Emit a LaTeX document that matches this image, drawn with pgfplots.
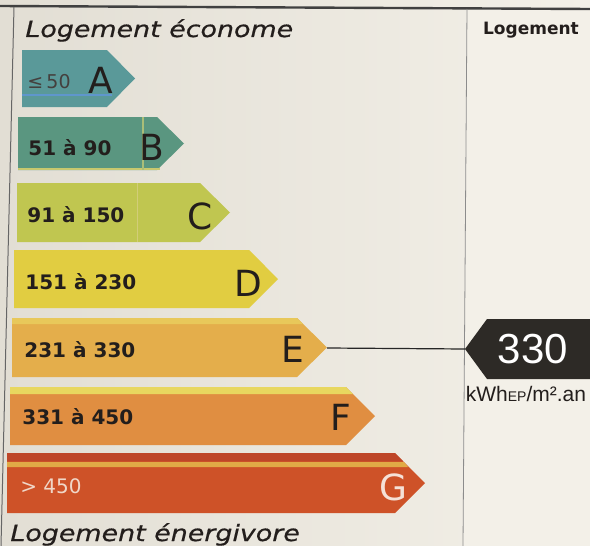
\documentclass[border=0pt]{standalone}
\usepackage{pgfplots}
\pgfplotsset{compat=1.18}
\usepackage{fontspec}
\setmainfont{DejaVu Sans}
\newfontfamily\verd[FakeStretch=1.2,FakeBold=0.6]{DejaVu Sans}
\newfontfamily\arial{Liberation Sans}
\definecolor{bgL}{RGB}{226,222,212}
\definecolor{bgR}{RGB}{243,240,232}
\definecolor{cA}{RGB}{90,153,153}
\definecolor{cB}{RGB}{90,150,128}
\definecolor{cC}{RGB}{192,198,80}
\definecolor{cD}{RGB}{225,205,65}
\definecolor{cE}{RGB}{228,174,75}
\definecolor{cF}{RGB}{224,142,65}
\definecolor{cG}{RGB}{206,82,40}
\definecolor{txt}{RGB}{35,30,28}
\definecolor{mark}{RGB}{45,42,38}
\begin{document}
\begin{tikzpicture}
\begin{axis}[hide axis, scale only axis, width=295pt, height=273pt,
  xmin=0, xmax=590, ymin=0, ymax=546, y dir=reverse, clip=true]
% background
\addplot[draw=none, left color=bgL, right color=bgR] coordinates {(0,0) (590,0) (590,546) (0,546)};
\addplot[draw=none, fill=bgR] coordinates {(466,8) (590,8) (590,546) (463,546)};
% frame
\addplot[draw=black!75, line width=1.2pt] coordinates {(0,6) (590,9)};
\addplot[draw=black!60, line width=0.5pt] coordinates {(14,7) (1,546)};
\addplot[draw=black!45, line width=0.4pt] coordinates {(467,9) (463,546)};
% bars
\addplot[draw=none, fill=cA] coordinates {(22,50) (107,50) (135,78.5) (107,107) (22,107)};
\addplot[draw=none, fill=cB] coordinates {(18,117) (157,117) (184,143.5) (157,170) (18,170)};
\addplot[draw=none, fill=cC] coordinates {(17,183) (200,183) (230,212.5) (200,242) (17,242)};
\addplot[draw=none, fill=cD] coordinates {(14,250) (249,250) (278,279) (249,308) (14,308)};
\addplot[draw=none, fill=cE] coordinates {(12,318) (297,318) (327,347.5) (297,377) (12,377)};
\addplot[draw=none, fill=cF] coordinates {(10,387) (346,387) (375,416) (346,445) (10,445)};
\addplot[draw=none, fill=cG] coordinates {(7,453) (395,453) (425,483) (395,513) (7,513)};
% print artefacts
\addplot[draw={rgb,255:red,95;green,150;blue,205}, line width=1.2pt] coordinates {(22,95) (112,95)};
\addplot[draw={rgb,255:red,200;green,200;blue,110}, line width=1pt] coordinates {(18,169) (160,169)};
\addplot[draw={rgb,255:red,170;green,190;blue,120}, line width=0.6pt] coordinates {(143,117) (143,170)};
\addplot[draw={rgb,255:red,210;green,205;blue,120}, line width=0.5pt] coordinates {(137,183) (137,242)};
\addplot[draw=none, fill={rgb,255:red,232;green,200;blue,90}] coordinates {(12,318) (297,318) (303,324) (12,324)};
\addplot[draw=none, fill={rgb,255:red,232;green,215;blue,95}] coordinates {(10,387) (346,387) (353,394) (10,394)};
\addplot[draw=none, fill={rgb,255:red,190;green,70;blue,40}] coordinates {(7,453) (395,453) (403,461) (7,461)};
\addplot[draw=none, fill={rgb,255:red,225;green,170;blue,70}] coordinates {(7,462) (404,462) (408,467) (7,467)};
% pointer line and marker
\addplot[draw=black!85, line width=0.6pt] coordinates {(327,348) (465,349)};
\addplot[draw=none, fill=mark] coordinates {(465,349) (487,319) (590,319) (590,379) (487,379)};
% texts
\node[anchor=base west, inner sep=0pt, text=txt, font=\verd\itshape\fontsize{11.2}{13}\selectfont] at (axis cs:25,37) {Logement économe};
\node[anchor=base west, inner sep=0pt, text=txt, font=\verd\itshape\fontsize{11.2}{13}\selectfont] at (axis cs:10,541) {Logement énergivore};
\node[text=txt, font=\bfseries\fontsize{8.5}{10}\selectfont] at (axis cs:531,30) {Logement};
\node[text=white, font=\arial\fontsize{21}{24}\selectfont] at (axis cs:533,349) {330};
\node[text=txt, font=\arial\fontsize{10.5}{12}\selectfont] at (axis cs:526,394) {kWh{\fontsize{7}{8}\selectfont EP}/m².an};
% range labels
\node[anchor=west, inner sep=0pt, text=txt!85, font=\fontsize{9.5}{10}\selectfont] at (axis cs:27,82) {≤\,50};
\node[anchor=west, inner sep=0pt, text=txt, font=\bfseries\fontsize{10}{12}\selectfont] at (axis cs:28,148) {51 à 90};
\node[anchor=west, inner sep=0pt, text=txt, font=\bfseries\fontsize{10}{12}\selectfont] at (axis cs:27,215) {91 à 150};
\node[anchor=west, inner sep=0pt, text=txt, font=\bfseries\fontsize{10}{12}\selectfont] at (axis cs:25,282) {151 à 230};
\node[anchor=west, inner sep=0pt, text=txt, font=\bfseries\fontsize{10}{12}\selectfont] at (axis cs:24,350) {231 à 330};
\node[anchor=west, inner sep=0pt, text=txt, font=\bfseries\fontsize{10}{12}\selectfont] at (axis cs:22,417) {331 à 450};
\node[anchor=west, inner sep=0pt, text={rgb,255:red,240;green,215;blue,200}, font=\fontsize{10}{12}\selectfont] at (axis cs:20,486) {> 450};
% class letters
\node[text=txt, font=\fontsize{18}{20}\selectfont] at (axis cs:101,80) {A};
\node[text=txt, font=\fontsize{18}{20}\selectfont] at (axis cs:152,147) {B};
\node[text=txt, font=\fontsize{18}{20}\selectfont] at (axis cs:200,216) {C};
\node[text=txt, font=\fontsize{18}{20}\selectfont] at (axis cs:248,283) {D};
\node[text=txt, font=\fontsize{18}{20}\selectfont] at (axis cs:293,349) {E};
\node[text=txt, font=\fontsize{18}{20}\selectfont] at (axis cs:341,417) {F};
\node[text={rgb,255:red,245;green,225;blue,215}, font=\fontsize{18}{20}\selectfont] at (axis cs:393,487) {G};
\end{axis}
\end{tikzpicture}
\end{document}
